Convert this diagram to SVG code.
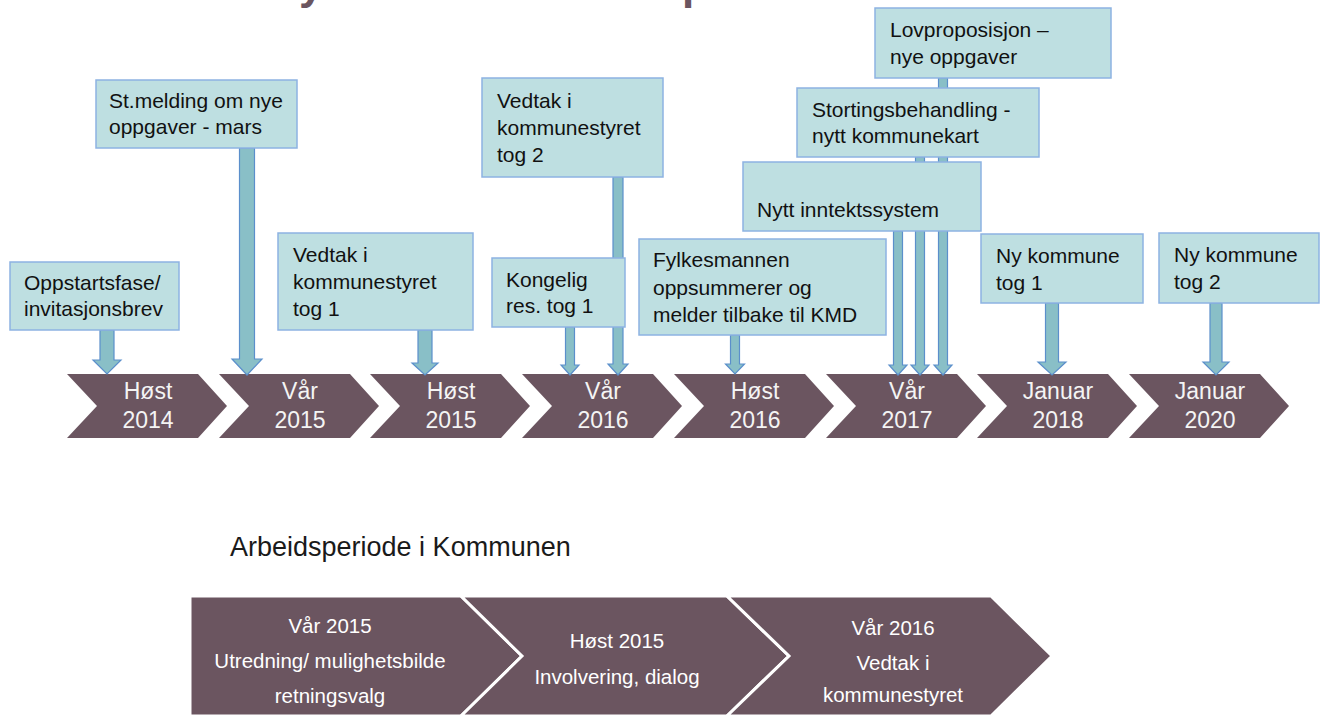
<svg xmlns="http://www.w3.org/2000/svg" width="1321" height="721" viewBox="0 0 1321 721">
<style>
  .bg{fill:#ffffff}
  .chev{fill:#6B5560}
  .chevt{font-family:"Liberation Sans",Arial,sans-serif;font-size:23px;fill:#F4F4F4;text-anchor:middle}
  .box{fill:#BEDFE1;stroke:#8DB3E2;stroke-width:1.5}
  .bt{font-family:"Liberation Sans",Arial,sans-serif;font-size:21px;fill:#111111}
  .arr{fill:#89BFC7;stroke:#5B8FCB;stroke-width:1.2;stroke-linejoin:miter}
  .proc{fill:#6B5560;stroke:#ffffff;stroke-width:3;stroke-linejoin:miter}
  .pt{font-family:"Liberation Sans",Arial,sans-serif;font-size:20.5px;fill:#FFFFFF;text-anchor:middle}
  .hd{font-family:"Liberation Sans",Arial,sans-serif;font-size:27px;fill:#1A1A1A}
  .ttl{font-family:"Liberation Sans",Arial,sans-serif;font-size:44px;font-weight:bold;fill:#6B5560}
</style>
<rect class="bg" x="0" y="0" width="1321" height="721"/>

<g id="title-fragments">
  <text class="ttl" x="299" y="-1">y</text>
  <text class="ttl" x="682" y="-1">p</text>
</g>

<g id="timeline">
  <g id="t-host2014"><path class="chev" d="M67,374 L198,374 L227,406 L198,438 L67,438 L97,406 Z"/><text class="chevt" x="148" y="399">Høst</text><text class="chevt" x="148" y="428">2014</text></g>
  <g id="t-var2015"><path class="chev" d="M219,374 L350,374 L379,406 L350,438 L219,438 L249,406 Z"/><text class="chevt" x="300" y="399">Vår</text><text class="chevt" x="300" y="428">2015</text></g>
  <g id="t-host2015"><path class="chev" d="M370,374 L501,374 L530,406 L501,438 L370,438 L400,406 Z"/><text class="chevt" x="451" y="399">Høst</text><text class="chevt" x="451" y="428">2015</text></g>
  <g id="t-var2016"><path class="chev" d="M522,374 L653,374 L682,406 L653,438 L522,438 L552,406 Z"/><text class="chevt" x="603" y="399">Vår</text><text class="chevt" x="603" y="428">2016</text></g>
  <g id="t-host2016"><path class="chev" d="M674,374 L805,374 L834,406 L805,438 L674,438 L704,406 Z"/><text class="chevt" x="755" y="399">Høst</text><text class="chevt" x="755" y="428">2016</text></g>
  <g id="t-var2017"><path class="chev" d="M826,374 L957,374 L986,406 L957,438 L826,438 L856,406 Z"/><text class="chevt" x="907" y="399">Vår</text><text class="chevt" x="907" y="428">2017</text></g>
  <g id="t-jan2018"><path class="chev" d="M977,374 L1108,374 L1137,406 L1108,438 L977,438 L1007,406 Z"/><text class="chevt" x="1058" y="399">Januar</text><text class="chevt" x="1058" y="428">2018</text></g>
  <g id="t-jan2020"><path class="chev" d="M1129,374 L1260,374 L1289,406 L1260,438 L1129,438 L1159,406 Z"/><text class="chevt" x="1210" y="399">Januar</text><text class="chevt" x="1210" y="428">2020</text></g>
</g>

<g id="connectors">
  <path class="arr" d="M100,330 L114,330 L114,360 L121,360 L107,374 L93,360 L100,360 Z"/>
  <path class="arr" d="M239.5,148 L254.5,148 L254.5,359 L262,359 L247,375 L232,359 L239.5,359 Z"/>
  <path class="arr" d="M418,330 L432,330 L432,363 L438,363 L425,375 L412,363 L418,363 Z"/>
  <path class="arr" d="M565.5,327 L574.5,327 L574.5,365 L579,365 L570,375 L561,365 L565.5,365 Z"/>
  <path class="arr" d="M613,177 L623,177 L623,364 L628,364 L618,375 L608,364 L613,364 Z"/>
  <path class="arr" d="M730.5,335 L739.5,335 L739.5,364 L744.5,364 L735,374 L725.5,364 L730.5,364 Z"/>
  <path class="arr" d="M893.5,231 L902.5,231 L902.5,365 L907,365 L898,375 L889,365 L893.5,365 Z"/>
  <path class="arr" d="M915.5,157 L924.5,157 L924.5,365 L929,365 L920,375 L911,365 L915.5,365 Z"/>
  <path class="arr" d="M938.5,78 L947.5,78 L947.5,365 L952,365 L943,375 L934,365 L938.5,365 Z"/>
  <path class="arr" d="M1045.5,303 L1058.5,303 L1058.5,362 L1066,362 L1052,375 L1038,362 L1045.5,362 Z"/>
  <path class="arr" d="M1210,303 L1222,303 L1222,362 L1229,362 L1216,375 L1203,362 L1210,362 Z"/>
</g>

<g id="n-oppstart"><rect class="box" x="10" y="262" width="169" height="68"/><text class="bt" x="24" y="290">Oppstartsfase/</text><text class="bt" x="24" y="316">invitasjonsbrev</text></g>
<g id="n-stmelding"><rect class="box" x="96" y="80" width="201" height="68"/><text class="bt" x="109" y="108">St.melding om nye</text><text class="bt" x="109" y="134">oppgaver - mars</text></g>
<g id="n-vedtak1"><rect class="box" x="278" y="233" width="195" height="97"/><text class="bt" x="293" y="262">Vedtak i</text><text class="bt" x="293" y="289">kommunestyret</text><text class="bt" x="293" y="316">tog 1</text></g>
<g id="n-vedtak2"><rect class="box" x="482" y="78" width="181" height="99"/><text class="bt" x="497" y="108">Vedtak i</text><text class="bt" x="497" y="135">kommunestyret</text><text class="bt" x="497" y="162">tog 2</text></g>
<g id="n-kongelig"><rect class="box" x="492" y="258" width="133" height="69"/><text class="bt" x="506" y="287">Kongelig</text><text class="bt" x="506" y="313">res. tog 1</text></g>
<g id="n-fylkesmannen"><rect class="box" x="639" y="239" width="247" height="96"/><text class="bt" x="653" y="267">Fylkesmannen</text><text class="bt" x="653" y="295">oppsummerer og</text><text class="bt" x="653" y="322">melder tilbake til KMD</text></g>
<g id="n-inntekt"><rect class="box" x="743" y="162" width="238" height="69"/><text class="bt" x="757" y="217">Nytt inntektssystem</text></g>
<g id="n-storting"><rect class="box" x="797" y="88" width="242" height="69"/><text class="bt" x="812" y="117">Stortingsbehandling -</text><text class="bt" x="812" y="143">nytt kommunekart</text></g>
<g id="n-lovprop"><rect class="box" x="875" y="8" width="236" height="70"/><text class="bt" x="890" y="37">Lovproposisjon –</text><text class="bt" x="890" y="64">nye oppgaver</text></g>
<g id="n-nykommune1"><rect class="box" x="981" y="234" width="162" height="69"/><text class="bt" x="996" y="263">Ny kommune</text><text class="bt" x="996" y="290">tog 1</text></g>
<g id="n-nykommune2"><rect class="box" x="1159" y="233" width="160" height="70"/><text class="bt" x="1174" y="262">Ny kommune</text><text class="bt" x="1174" y="289">tog 2</text></g>

<g id="n-heading"><text class="hd" x="230" y="556">Arbeidsperiode i Kommunen</text></g>

<g id="process">
  <g id="p-var2015"><path class="proc" d="M190,596 L461,596 L522,656 L461,716 L190,716 Z"/><text class="pt" x="330" y="633">Vår 2015</text><text class="pt" x="330" y="668">Utredning/ mulighetsbilde</text><text class="pt" x="330" y="703">retningsvalg</text></g>
  <g id="p-host2015"><path class="proc" d="M461,596 L727,596 L789,656 L727,716 L461,716 L522,656 Z"/><text class="pt" x="617" y="648">Høst 2015</text><text class="pt" x="617" y="684">Involvering, dialog</text></g>
  <g id="p-var2016"><path class="proc" d="M727,596 L991,596 L1052,656 L991,716 L727,716 L789,656 Z"/><text class="pt" x="893" y="635">Vår 2016</text><text class="pt" x="893" y="670">Vedtak i</text><text class="pt" x="893" y="702">kommunestyret</text></g>
</g>
</svg>
